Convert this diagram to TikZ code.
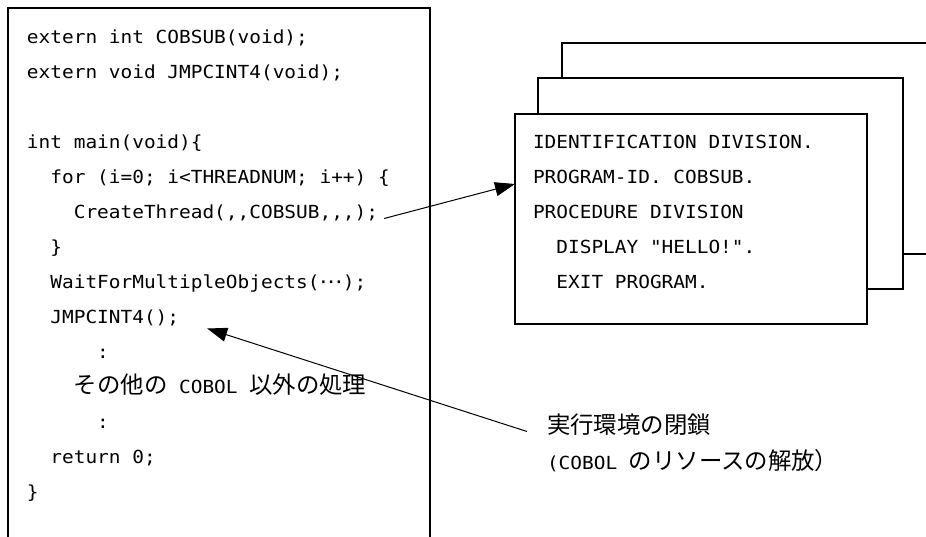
\documentclass[tikz,border=0pt]{standalone}
\usepackage{fontspec}
\newfontfamily\codefont[FakeStretch=1.08,Ligatures=TeXOff]{DejaVu Sans Mono}
\newfontfamily\jpfont{Noto Sans CJK JP}
\usetikzlibrary{arrows.meta}
\newcommand{\J}[1]{{\jpfont\fontsize{23.4}{28}\selectfont #1}}
\newcommand{\midell}{\makebox[23.4pt][c]{·\hspace{-4pt}·\hspace{-4pt}·}}
\begin{document}
\begin{tikzpicture}[x=1pt,y=-1pt,
  box/.style={draw, line width=1.2pt, fill=white, inner sep=0pt, outer sep=0pt, anchor=north west},
  code/.style={inner sep=0pt, outer sep=0pt, anchor=base west, font=\codefont\fontsize{18}{22}\selectfont},
  conn/.style={line width=1pt, -{Triangle[length=20pt,width=14pt]}}]
\useasboundingbox[fill=white] (0,0) rectangle (926,536);

% left C program box
\node[box, minimum width=422pt, minimum height=552pt] (cprog) at (8,8) {};
\node[code] (l1) at (27,43.5) {extern int COBSUB(void);};
\node[code] (l2) at (27,78.5) {extern void JMPCINT4(void);};
\node[code] (l3) at (27,148.5) {int main(void)\{};
\node[code] (l4) at (50.4,183.5) {for (i=0; i<THREADNUM; i++) \{};
\node[code] (ct) at (73.8,218.5) {CreateThread(,,COBSUB,,,);};
\node[code] (l6) at (50.4,253.5) {\}};
\node[code] (l7) at (50.4,288.5) {WaitForMultipleObjects(\midell);};
\node[code] (jmp) at (50.4,323.5) {JMPCINT4();};
\node[code] (d1) at (97.2,358.5) {:};
\node[code] (other) at (73.8,393.5) {\J{その他の} COBOL \J{以外の処理}};
\node[code] (d2) at (97.2,428.5) {:};
\node[code] (ret) at (50.4,463.5) {return 0;};
\node[code] (l13) at (27,498.5) {\}};

% stacked COBOL boxes
\node[box, minimum width=398pt, minimum height=211pt] (back) at (562,43) {};
\node[box, minimum width=365pt, minimum height=211pt] (mid) at (538,78) {};
\node[box, minimum width=352pt, minimum height=210pt] (cobol) at (515,114) {};
\node[code] (r1) at (533,148.5) {IDENTIFICATION DIVISION.};
\node[code] (r2) at (533,183.5) {PROGRAM-ID. COBSUB.};
\node[code] (r3) at (533,218.5) {PROCEDURE DIVISION};
\node[code] (r4) at (556.4,253.5) {DISPLAY "HELLO!".};
\node[code] (r5) at (556.4,288.5) {EXIT PROGRAM.};

% label
\node[code] (lbl1) at (547,433.5) {\J{実行環境の閉鎖}};
\node[code] (lbl2) at (547,469.5) {(COBOL \J{のリソースの解放）}};

% connectors
\draw[conn] ([xshift=6pt]ct.base east) -- ([yshift=35pt]cobol.west);
\draw[conn] ([xshift=-20pt,yshift=2pt]lbl1.base west) -- ([xshift=28pt,yshift=-5pt]jmp.base east);
\end{tikzpicture}
\end{document}
